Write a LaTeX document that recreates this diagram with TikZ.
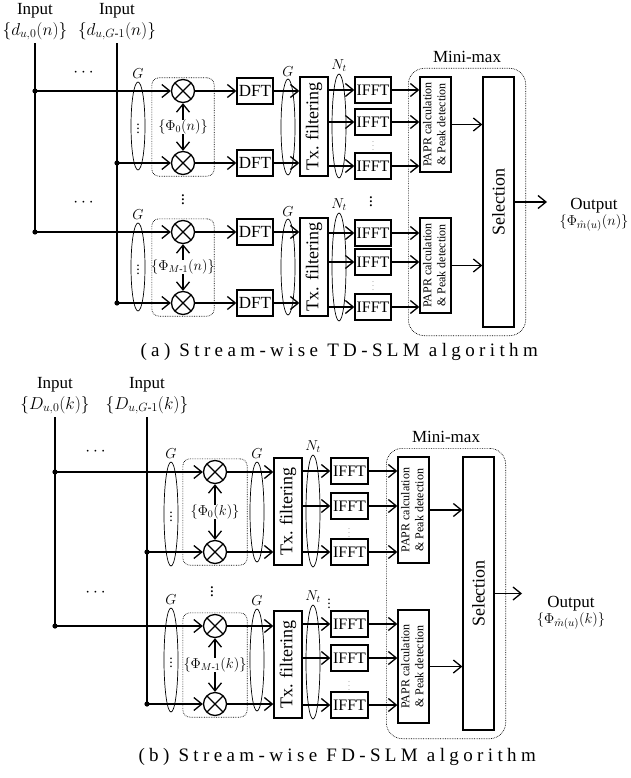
\documentclass[tikz,border=0pt]{standalone}
\usepackage{amsmath}
\usepackage{graphicx}
\usepackage{fontspec}
\setmainfont{Liberation Serif}
\newfontfamily\capfont[LetterSpace=23]{Liberation Serif}
\usepackage{tikz}
\usetikzlibrary{arrows.meta,positioning,shapes.geometric,fit}
\newcommand{\fsz}[1]{\fontsize{#1}{#1}\selectfont}

\begin{document}
\begin{tikzpicture}[x=1pt,y=-1pt,font=\fsz{17},
  wire/.style={line width=1.3pt},
  ar/.style={wire,-{Straight Barb[length=8pt,width=13pt]}},
  blk/.style={draw,line width=1.3pt,inner sep=0pt,minimum width=36pt,minimum height=26pt},
  mul/.style={circle,draw,line width=1.3pt,minimum size=23pt,inner sep=0pt,
    path picture={\draw[line width=1.3pt]
      (path picture bounding box.north west) -- (path picture bounding box.south east)
      (path picture bounding box.north east) -- (path picture bounding box.south west);}},
  ell/.style={ellipse,draw,line width=0.7pt,minimum width=14pt,inner sep=0pt,font=\fsz{14}},
  grp/.style={draw,densely dotted,line width=0.7pt,rounded corners=7pt,inner ysep=1pt},
  minibox/.style={draw,densely dotted,line width=0.7pt,rounded corners=16pt,inner xsep=11pt,inner ysep=8pt},
  sym/.style={font=\fsz{15},inner sep=0pt},
  phi/.style={font=\fsz{14},inner sep=0pt},
  fine/.style={font=\fsz{8},text=gray,inner sep=0pt},
  tx/.style={blk,minimum width=28pt,font=\fsz{18}},
  papr/.style={blk,minimum width=31pt,font=\fontsize{12}{14}\selectfont},
  outlbl/.style={font=\fsz{15},inner sep=0pt},
  captxt/.style={anchor=west,font=\capfont\fsz{19}}
]
\useasboundingbox (0,0) rectangle (630,778);

% (a) stream-wise TD-SLM
\node (da0) at (35,31) {$\{d_{u,0}(n)\}$};
\node[above=-3pt of da0] (inA0) {Input};
\node (da1) at (117,31) {$\{d_{u,G\text{-}1}(n)\}$};
\node[above=-3pt of da1] (inA1) {Input};
\node (hda0) at (85,73) {$\cdots$};
\node (hda1) at (85,203) {$\cdots$};

\node[mul] (ma0) at (183,91) {};
\node[mul] (mb0) at (183,163) {};
\node[phi] (pha0) at (183,127) {$\{\Phi_0(n)\}$};
\node[grp,fit=(ma0)(mb0),inner xsep=19pt] (bxa0) {};
\node[mul] (ma1) at (183,232) {};
\node[mul] (mb1) at (183,303) {};
\node[phi] (pha1) at (183,267) {$\{\Phi_{M\text{-}1}(n)\}$};
\node[grp,fit=(ma1)(mb1),inner xsep=19pt] (bxa1) {};
\node[inner sep=0pt] (vda0) at (183,197) {$\vdots$};

\node[ell,minimum height=88pt] (ga0) at (138,126) {$\vdots$};
\node[sym,above=3pt of ga0] (lga0) {$G$};
\node[ell,minimum height=88pt] (ga1) at (138,267) {$\vdots$};
\node[sym,above=3pt of ga1] (lga1) {$G$};

\node[blk] (fa0) at (255,91) {DFT};
\node[blk] (fb0) at (255,163) {DFT};
\node[blk] (fa1) at (255,232) {DFT};
\node[blk] (fb1) at (255,303) {DFT};
\node[ell,minimum height=96pt] (gb0) at (288,127) {};
\node[sym,above=2pt of gb0] (lgb0) {$G$};
\node[ell,minimum height=96pt] (gb1) at (288,267) {};
\node[sym,above=2pt of gb1] (lgb1) {$G$};

\node[tx,minimum height=99pt] (txa0) at (314,126.5) {\rotatebox{90}{Tx. filtering}};
\node[tx,minimum height=98pt] (txa1) at (314,267) {\rotatebox{90}{Tx. filtering}};
\node[ell,minimum height=104pt] (nta0) at (339,126) {};
\node[phi,above=2pt of nta0] (lnta0) {$N_t$};
\node[ell,minimum height=108pt] (nta1) at (339,267) {};
\node[phi,above=2pt of nta1] (lnta1) {$N_t$};

\node[blk,font=\fsz{16}] (ifa0) at (373,90) {IFFT};
\node[blk,font=\fsz{16}] (ifb0) at (373,122) {IFFT};
\node[blk,font=\fsz{16}] (ifc0) at (373,166) {IFFT};
\node[fine] (sda0) at (373,143) {$\vdots$};
\node[blk,font=\fsz{16}] (ifa1) at (373,233) {IFFT};
\node[blk,font=\fsz{16}] (ifb1) at (373,262) {IFFT};
\node[blk,font=\fsz{16}] (ifc1) at (373,307) {IFFT};
\node[fine] (sda1) at (373,283) {$\vdots$};
\node[inner sep=0pt] (vda1) at (371,199) {$\vdots$};

\node[papr,minimum height=95pt] (pra0) at (435.5,124.5)
  {\rotatebox{90}{\begin{tabular}{@{}c@{}}PAPR calculation\\\& Peak detection\end{tabular}}};
\node[papr,minimum height=95pt] (pra1) at (435.5,265.5)
  {\rotatebox{90}{\begin{tabular}{@{}c@{}}PAPR calculation\\\& Peak detection\end{tabular}}};
\node[blk,minimum width=31pt,minimum height=250pt,font=\fsz{18}] (sela) at (498.5,202) {\rotatebox{90}{Selection}};
\node[minibox,fit=(pra0)(pra1)(sela)] (mma) {};
\node[above=2pt of mma] (lmma) {Mini-max};
\coordinate (oa) at (547,202);
\node[outlbl] (oua) at (594,223) {$\{\Phi_{\hat{m}(u)}(n)\}$};
\node[above=1pt of oua,inner sep=0pt] (otxa) {Output};

\node[captxt] (capa) at (137,352) {(a) Stream-wise TD-SLM algorithm};

\coordinate (ja0) at (da0.south |- ma0);
\coordinate (ja1) at (da1.south |- mb0);
\coordinate (ja2) at (da0.south |- ma1);
\coordinate (ja3) at (da1.south |- mb1);
\draw[ar] (da0.south) |- (ma1);
\draw[ar] (da1.south) |- (mb1);
\draw[ar] (ja0) -- (ma0);
\draw[ar] (ja1) -- (mb0);
\fill (ja0) circle (2.6pt) (ja1) circle (2.6pt) (ja2) circle (2.6pt) (ja3) circle (2.6pt);
\draw[ar] (pha0) -- (ma0); \draw[ar] (pha0) -- (mb0);
\draw[ar] (pha1) -- (ma1); \draw[ar] (pha1) -- (mb1);
\draw[ar] (ma0) -- (fa0); \draw[ar] (mb0) -- (fb0);
\draw[ar] (ma1) -- (fa1); \draw[ar] (mb1) -- (fb1);
\draw[ar] (fa0) -- (fa0 -| txa0.west); \draw[ar] (fb0) -- (fb0 -| txa0.west);
\draw[ar] (fa1) -- (fa1 -| txa1.west); \draw[ar] (fb1) -- (fb1 -| txa1.west);
\draw[ar] (ifa0 -| txa0.east) -- (ifa0); \draw[ar] (ifb0 -| txa0.east) -- (ifb0);
\draw[ar] (ifc0 -| txa0.east) -- (ifc0);
\draw[ar] (ifa1 -| txa1.east) -- (ifa1); \draw[ar] (ifb1 -| txa1.east) -- (ifb1);
\draw[ar] (ifc1 -| txa1.east) -- (ifc1);
\draw[ar] (ifa0) -- (ifa0 -| pra0.west); \draw[ar] (ifb0) -- (ifb0 -| pra0.west);
\draw[ar] (ifc0) -- (ifc0 -| pra0.west);
\draw[ar] (ifa1) -- (ifa1 -| pra1.west); \draw[ar] (ifb1) -- (ifb1 -| pra1.west);
\draw[ar] (ifc1) -- (ifc1 -| pra1.west);
\draw[ar] (pra0) -- (pra0 -| sela.west); \draw[ar] (pra1) -- (pra1 -| sela.west);
\draw[ar] (sela) -- (oa);

% (b) stream-wise FD-SLM
\node (db0) at (55,405) {$\{D_{u,0}(k)\}$};
\node[above=-3pt of db0] (inB0) {Input};
\node (db1) at (147,405) {$\{D_{u,G\text{-}1}(k)\}$};
\node[above=-3pt of db1] (inB1) {Input};
\node (hdb0) at (97,452) {$\cdots$};
\node (hdb1) at (97,593) {$\cdots$};

\node[mul] (mc0) at (215,472) {};
\node[mul] (md0) at (215,552) {};
\node[phi] (phb0) at (215,512) {$\{\Phi_0(k)\}$};
\node[grp,fit=(mc0)(md0),inner xsep=20pt] (bxb0) {};
\node[mul] (mc1) at (215,626) {};
\node[mul] (md1) at (215,704) {};
\node[phi] (phb1) at (215,665) {$\{\Phi_{M\text{-}1}(k)\}$};
\node[grp,fit=(mc1)(md1),inner xsep=20pt] (bxb1) {};
\node[inner sep=0pt] (vdb0) at (212,589) {$\vdots$};

\node[ell,minimum height=104pt] (gc0) at (171,514) {$\vdots$};
\node[sym,above=3pt of gc0] (lgc0) {$G$};
\node[ell,minimum height=104pt] (gc1) at (171,660) {$\vdots$};
\node[sym,above=3pt of gc1] (lgc1) {$G$};
\node[ell,minimum height=100pt] (gd0) at (257,512) {};
\node[sym,above=3pt of gd0] (lgd0) {$G$};
\node[ell,minimum height=102pt] (gd1) at (257,660) {};
\node[sym,above=3pt of gd1] (lgd1) {$G$};

\node[tx,minimum height=107pt] (txb0) at (288,511.5) {\rotatebox{90}{Tx. filtering}};
\node[tx,minimum height=107pt] (txb1) at (288,664.5) {\rotatebox{90}{Tx. filtering}};
\node[ell,minimum height=112pt] (ntb0) at (313,511) {};
\node[phi,above=2pt of ntb0] (lntb0) {$N_t$};
\node[ell,minimum height=114pt] (ntb1) at (313,662) {};
\node[phi,above=2pt of ntb1] (lntb1) {$N_t$};
\node[inner sep=0pt,font=\fsz{14}] (vdb1) at (329,601) {$\vdots$};

\node[blk,font=\fsz{16},minimum width=37pt] (ifd0) at (349.5,471) {IFFT};
\node[blk,font=\fsz{16},minimum width=37pt] (ife0) at (349.5,506) {IFFT};
\node[blk,font=\fsz{16},minimum width=37pt] (iff0) at (349.5,552) {IFFT};
\node[fine] (sdb0) at (349,530) {$\vdots$};
\node[blk,font=\fsz{16},minimum width=37pt] (ifd1) at (349.5,624) {IFFT};
\node[blk,font=\fsz{16},minimum width=37pt] (ife1) at (349.5,658) {IFFT};
\node[blk,font=\fsz{16},minimum width=37pt] (iff1) at (349.5,705) {IFFT};
\node[fine] (sdb1) at (349,683) {$\vdots$};

\node[papr,minimum height=106pt] (prb0) at (413.5,510)
  {\rotatebox{90}{\begin{tabular}{@{}c@{}}PAPR calculation\\\& Peak detection\end{tabular}}};
\node[papr,minimum height=113pt] (prb1) at (413.5,666.5)
  {\rotatebox{90}{\begin{tabular}{@{}c@{}}PAPR calculation\\\& Peak detection\end{tabular}}};
\node[blk,minimum width=31pt,minimum height=273pt,font=\fsz{18}] (selb) at (478.5,593.5) {\rotatebox{90}{Selection}};
\node[minibox,fit=(prb0)(prb1)(selb)] (mmb) {};
\node[above=2pt of mmb] (lmmb) {Mini-max};
\coordinate (ob) at (522,593.5);
\node[outlbl] (oub) at (571,621) {$\{\Phi_{\hat{m}(u)}(k)\}$};
\node[above=1pt of oub,inner sep=0pt] (otxb) {Output};

\node[captxt] (capb) at (135,757) {(b) Stream-wise FD-SLM algorithm};

\coordinate (jb0) at (db0.south |- mc0);
\coordinate (jb1) at (db1.south |- md0);
\coordinate (jb2) at (db0.south |- mc1);
\coordinate (jb3) at (db1.south |- md1);
\draw[ar] (db0.south) |- (mc1);
\draw[ar] (db1.south) |- (md1);
\draw[ar] (jb0) -- (mc0);
\draw[ar] (jb1) -- (md0);
\fill (jb0) circle (2.6pt) (jb1) circle (2.6pt) (jb2) circle (2.6pt) (jb3) circle (2.6pt);
\draw[ar] (phb0) -- (mc0); \draw[ar] (phb0) -- (md0);
\draw[ar] (phb1) -- (mc1); \draw[ar] (phb1) -- (md1);
\draw[ar] (mc0) -- (mc0 -| txb0.west); \draw[ar] (md0) -- (md0 -| txb0.west);
\draw[ar] (mc1) -- (mc1 -| txb1.west); \draw[ar] (md1) -- (md1 -| txb1.west);
\draw[ar] (ifd0 -| txb0.east) -- (ifd0); \draw[ar] (ife0 -| txb0.east) -- (ife0);
\draw[ar] (iff0 -| txb0.east) -- (iff0);
\draw[ar] (ifd1 -| txb1.east) -- (ifd1); \draw[ar] (ife1 -| txb1.east) -- (ife1);
\draw[ar] (iff1 -| txb1.east) -- (iff1);
\draw[ar] (ifd0) -- (ifd0 -| prb0.west); \draw[ar] (ife0) -- (ife0 -| prb0.west);
\draw[ar] (iff0) -- (iff0 -| prb0.west);
\draw[ar] (ifd1) -- (ifd1 -| prb1.west); \draw[ar] (ife1) -- (ife1 -| prb1.west);
\draw[ar] (iff1) -- (iff1 -| prb1.west);
\draw[ar] (prb0) -- (prb0 -| selb.west); \draw[ar] (prb1) -- (prb1 -| selb.west);
\draw[ar] (selb) -- (ob);
\end{tikzpicture}
\end{document}
